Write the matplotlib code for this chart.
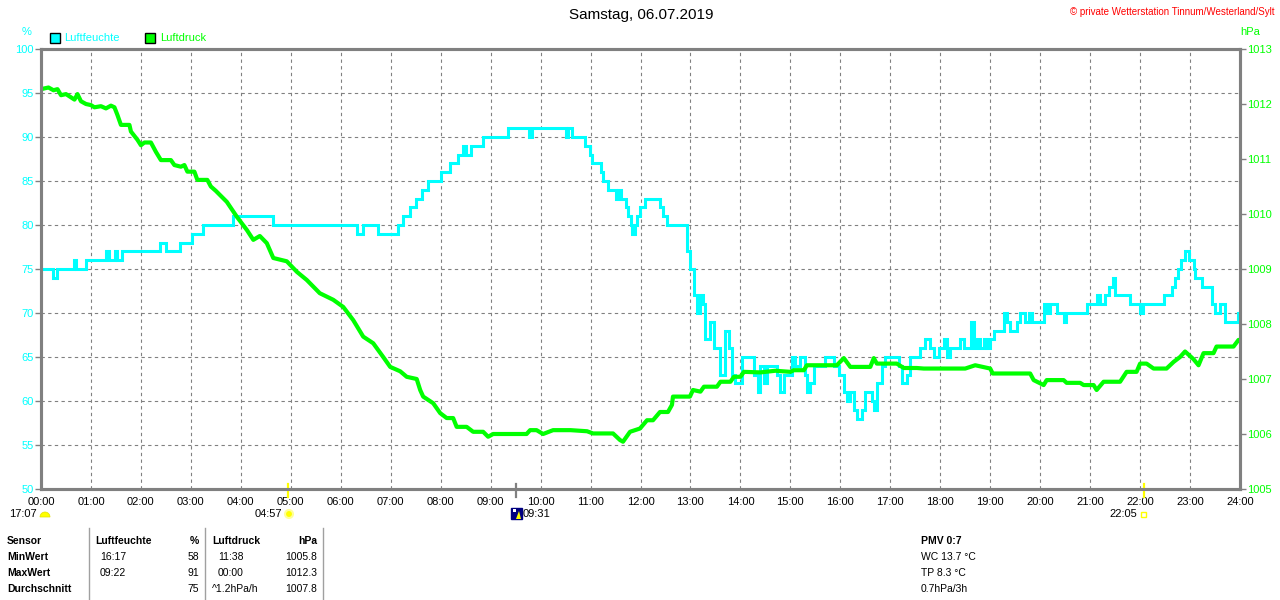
import matplotlib
matplotlib.use('Agg')
import matplotlib.pyplot as plt
from matplotlib.patches import Rectangle, Circle, Wedge, Polygon
from matplotlib.transforms import IdentityTransform, blended_transform_factory

plt.rcParams['font.family'] = ['Liberation Sans', 'DejaVu Sans']

# ---------------- data ----------------
title = "Samstag, 06.07.2019"
copyright_text = "\u00a9 private Wetterstation Tinnum/Westerland/Sylt"
hour_labels = ["%02d:00" % h for h in range(25)]
hum_ticks = [50, 55, 60, 65, 70, 75, 80, 85, 90, 95, 100]
press_ticks = [1005, 1006, 1007, 1008, 1009, 1010, 1011, 1012, 1013]

# humidity (%) change points, hours
hum_t = [0.00, 0.25, 0.32, 0.66, 0.70, 0.91, 1.30, 1.36, 1.48, 1.52, 1.62, 2.38, 2.50, 2.78,
         3.02, 3.25, 3.85, 4.65, 6.32, 6.45, 6.75, 7.15, 7.25, 7.38, 7.50, 7.63, 7.75, 8.00,
         8.19, 8.35, 8.45, 8.50, 8.60, 8.85, 9.35, 9.77, 9.82, 10.50, 10.55, 10.63, 10.89,
         10.98, 11.03, 11.20, 11.25, 11.35, 11.50, 11.55, 11.60, 11.70, 11.75, 11.80, 11.83,
         11.88, 11.93, 11.99, 12.09, 12.39, 12.45, 12.53, 12.90, 12.93, 13.00, 13.07, 13.13,
         13.20, 13.25, 13.30, 13.40, 13.47, 13.60, 13.70, 13.77, 13.83, 13.90, 14.03, 14.27,
         14.35, 14.40, 14.47, 14.53, 14.73, 14.80, 14.87, 15.03, 15.10, 15.20, 15.30, 15.33,
         15.40, 15.47, 15.70, 15.87, 15.97, 16.07, 16.13, 16.20, 16.27, 16.33, 16.43, 16.50,
         16.63, 16.67, 16.73, 16.83, 16.90, 17.17, 17.23, 17.33, 17.40, 17.60, 17.70, 17.80,
         17.87, 17.97, 18.07, 18.13, 18.20, 18.40, 18.47, 18.61, 18.67, 18.73, 18.80, 18.87,
         18.93, 19.00, 19.07, 19.27, 19.33, 19.40, 19.53, 19.60, 19.70, 19.77, 19.83, 20.07,
         20.13, 20.20, 20.33, 20.47, 20.52, 20.93, 21.13, 21.20, 21.30, 21.37, 21.45, 21.50,
         21.80, 22.00, 22.05, 22.47, 22.63, 22.70, 22.75, 22.81, 22.90, 22.97, 23.07, 23.10,
         23.23, 23.43, 23.50, 23.59, 23.69, 23.95, 24.00]
hum_v = [75, 74, 75, 76, 75, 76, 77, 76, 77, 76, 77, 78, 77, 78,
         79, 80, 81, 80, 79, 80, 79, 80, 81, 82, 83, 84, 85, 86,
         87, 88, 89, 88, 89, 90, 91, 90, 91, 90, 91, 90, 89,
         88, 87, 86, 85, 84, 83, 84, 83, 82, 81, 80, 79,
         80, 81, 82, 83, 82, 81, 80, 80, 77, 75, 72, 70,
         72, 71, 67, 69, 66, 63, 68, 66, 63, 62, 65, 63,
         61, 64, 62, 64, 63, 61, 63, 65, 64, 65, 63, 61,
         62, 64, 65, 64, 63, 61, 60, 61, 59, 58, 59, 61,
         60, 59, 62, 64, 65, 64, 62, 63, 65, 66, 67, 66,
         65, 66, 67, 65, 66, 67, 66, 69, 66, 67, 66, 67,
         66, 67, 68, 70, 69, 68, 69, 70, 69, 70, 69, 71,
         70, 71, 70, 69, 70, 71, 72, 71, 72, 73, 74, 72,
         71, 70, 71, 72, 73, 74, 75, 76, 77, 76, 75, 74,
         73, 71, 70, 71, 69, 70, 70]

# pressure (hPa), hours
press_t = [0.00, 0.15, 0.25, 0.33, 0.40, 0.50, 0.60, 0.67, 0.73, 0.80,
           0.90, 1.00, 1.07, 1.20, 1.30, 1.40, 1.47, 1.53, 1.60, 1.77,
           1.80, 1.93, 2.00, 2.07, 2.20, 2.30, 2.40, 2.60, 2.67, 2.80,
           2.87, 2.93, 3.07, 3.13, 3.33, 3.40, 3.50, 3.72, 3.92, 4.12,
           4.25, 4.38, 4.52, 4.65, 4.92, 5.12, 5.32, 5.58, 5.85, 6.05,
           6.25, 6.45, 6.65, 6.85, 6.99, 7.19, 7.32, 7.52, 7.59, 7.65,
           7.85, 7.99, 8.12, 8.25, 8.32, 8.52, 8.65, 8.85, 8.95, 9.05,
           9.40, 9.72, 9.79, 9.92, 10.05, 10.25, 10.60, 10.93, 11.05, 11.45,
           11.59, 11.65, 11.79, 11.99, 12.13, 12.25, 12.39, 12.55, 12.63, 12.65,
           12.99, 13.05, 13.20, 13.27, 13.53, 13.60, 13.80, 13.87, 14.00, 14.07,
           14.40, 14.70, 15.00, 15.07, 15.27, 15.33, 15.93, 16.07, 16.20, 16.60,
           16.67, 16.73, 17.13, 17.27, 17.53, 17.67, 18.50, 18.70, 19.00, 19.05,
           19.80, 19.87, 20.07, 20.13, 20.47, 20.53, 20.80, 20.87, 21.07, 21.13,
           21.27, 21.60, 21.73, 21.93, 22.00, 22.13, 22.27, 22.53, 22.67, 22.80,
           22.90, 23.07, 23.17, 23.27, 23.47, 23.53, 23.87, 23.97, 24.00]
press_v = [1012.27, 1012.30, 1012.25, 1012.27, 1012.16, 1012.18, 1012.12, 1012.08, 1012.18, 1012.05,
           1012.00, 1011.98, 1011.94, 1011.96, 1011.92, 1011.97, 1011.94, 1011.80, 1011.62, 1011.62,
           1011.50, 1011.35, 1011.25, 1011.30, 1011.30, 1011.13, 1010.98, 1010.98, 1010.89, 1010.86,
           1010.89, 1010.77, 1010.77, 1010.62, 1010.62, 1010.50, 1010.42, 1010.22, 1009.95, 1009.71,
           1009.53, 1009.60, 1009.47, 1009.20, 1009.14, 1008.95, 1008.80, 1008.56, 1008.44, 1008.31,
           1008.07, 1007.77, 1007.65, 1007.40, 1007.22, 1007.14, 1007.04, 1007.00, 1006.80, 1006.68,
           1006.56, 1006.38, 1006.29, 1006.29, 1006.13, 1006.13, 1006.04, 1006.04, 1005.95, 1006.00,
           1006.00, 1006.00, 1006.07, 1006.07, 1006.00, 1006.07, 1006.07, 1006.05, 1006.01, 1006.01,
           1005.89, 1005.86, 1006.04, 1006.10, 1006.25, 1006.25, 1006.40, 1006.40, 1006.53, 1006.68,
           1006.68, 1006.80, 1006.77, 1006.86, 1006.86, 1006.95, 1006.95, 1007.04, 1007.04, 1007.13,
           1007.12, 1007.15, 1007.13, 1007.16, 1007.16, 1007.25, 1007.25, 1007.38, 1007.22, 1007.22,
           1007.38, 1007.28, 1007.28, 1007.20, 1007.20, 1007.19, 1007.19, 1007.25, 1007.19, 1007.10,
           1007.10, 1006.98, 1006.89, 1006.98, 1006.98, 1006.93, 1006.93, 1006.89, 1006.89, 1006.80,
           1006.95, 1006.95, 1007.13, 1007.13, 1007.28, 1007.28, 1007.19, 1007.19, 1007.31, 1007.40,
           1007.50, 1007.36, 1007.25, 1007.47, 1007.47, 1007.59, 1007.59, 1007.71, 1007.71]

# astro events: label, hour position of tick (None = no tick)
event_labels = ["17:07", "04:57", "09:31", "22:05"]
event_hours = [None, 4.95, 9.517, 22.083]

table_header = ["Sensor", "Luftfeuchte", "%", "Luftdruck", "hPa"]
table_rows = ["MinWert", "MaxWert", "Durchschnitt"]
hum_time_col = ["16:17", "09:22", ""]
hum_val_col = ["58", "91", "75"]
press_time_col = ["11:38", "00:00", "^1.2hPa/h"]
press_val_col = ["1005.8", "1012.3", "1007.8"]
pmv_lines = ["PMV 0:7", "WC 13.7 \u00b0C", "TP 8.3 \u00b0C", "0.7hPa/3h"]

CYAN = '#00ffff'
GREEN = '#00ff00'
GRAY = '#808080'

# ---------------- figure ----------------
W, H = 1280, 600
fig = plt.figure(figsize=(12.8, 6), dpi=100)
fig.patch.set_facecolor('white')


def fx(x):
    return x / W


def fy(y):
    return 1 - y / H


ax = fig.add_axes([fx(41), fy(489), fx(1240) - fx(41), fy(49) - fy(489)])
ax2 = ax.twinx()

ax.set_xlim(0, 24)
ax.set_ylim(50, 100)
ax2.set_ylim(1005, 1013)

ax.set_xticks(range(25))
ax.set_xticklabels(hour_labels)
ax.set_yticks(hum_ticks)
ax.set_yticklabels([str(v) for v in hum_ticks])
ax2.set_yticks(press_ticks)
ax2.set_yticklabels([str(v) for v in press_ticks])

ax.grid(True, color=GRAY, linestyle=(0, (3, 3)), linewidth=0.8)
ax2.grid(False)

for a in (ax, ax2):
    for s in a.spines.values():
        s.set_color(GRAY)
        s.set_linewidth(2.2)

ax.tick_params(axis='x', length=0, pad=6, labelsize=8, labelcolor='black')
ax.tick_params(axis='y', length=4, width=1, color=GRAY, pad=1, labelsize=8, labelcolor=CYAN)
ax2.tick_params(axis='y', length=4, width=1, color=GRAY, pad=1, labelsize=8, labelcolor=GREEN)

ax.step(hum_t, hum_v, where='post', color=CYAN, linewidth=2.2, solid_joinstyle='miter')
ax2.plot(press_t, press_v, color=GREEN, linewidth=3.0)

# astro ticks on x axis
btrans = blended_transform_factory(ax.transData, ax.transAxes)
tick_colors = ['#ffff00', GRAY, '#ffff00']
for hh, c in zip(event_hours[1:], tick_colors):
    ax.plot([hh, hh], [0.012, -0.018], color=c, linewidth=1.6, transform=btrans,
            clip_on=False, zorder=5)

# ---------------- texts ----------------
fig.text(fx(641), fy(15), title, ha='center', va='center', fontsize=11, color='black')
fig.text(fx(1275), fy(12), copyright_text, ha='right', va='center', fontsize=7, color='#ff0000')
fig.text(fx(27), fy(32), "%", ha='center', va='center', fontsize=8, color=CYAN)
fig.text(fx(1250), fy(32), "hPa", ha='center', va='center', fontsize=8, color=GREEN)

idt = IdentityTransform()
# legend
fig.add_artist(Rectangle((50, H - 43), 10, 10, facecolor=CYAN, edgecolor='black', lw=1, transform=idt))
fig.text(fx(64), fy(38), "Luftfeuchte", ha='left', va='center', fontsize=8, color=CYAN)
fig.add_artist(Rectangle((145, H - 43), 10, 10, facecolor=GREEN, edgecolor='black', lw=1, transform=idt))
fig.text(fx(160), fy(38), "Luftdruck", ha='left', va='center', fontsize=8, color=GREEN)

# astro labels and icons
fig.text(fx(37), fy(514), event_labels[0], ha='right', va='center', fontsize=8, color='black')
fig.add_artist(Wedge((45, H - 517), 5, 0, 180, facecolor='#ffff00', edgecolor='#e0e000', lw=0.5, transform=idt))
fig.text(fx(282), fy(514), event_labels[1], ha='right', va='center', fontsize=8, color='black')
fig.add_artist(Circle((289, H - 514), 4, facecolor='#ffff00', edgecolor='#ffff99', lw=1.5, transform=idt))
fig.add_artist(Rectangle((511, H - 519), 11, 11, facecolor='#000080', edgecolor='#000080', transform=idt))
fig.add_artist(Rectangle((513, H - 512), 3, 3, facecolor='white', edgecolor='none', transform=idt))
fig.add_artist(Polygon([(516, H - 519), (519, H - 511), (521, H - 519)], closed=True,
                       facecolor='#ffff00', edgecolor='none', transform=idt))
fig.text(fx(523), fy(514), event_labels[2], ha='left', va='center', fontsize=8, color='black')
fig.text(fx(1137), fy(514), event_labels[3], ha='right', va='center', fontsize=8, color='black')
fig.add_artist(Rectangle((1141, H - 517), 5, 5, facecolor='none', edgecolor='#ffff00', lw=1, transform=idt))

# table
row_y = [541, 557, 573, 589]
fig.text(fx(7), fy(row_y[0]), table_header[0], ha='left', va='center', fontsize=7.5, fontweight='bold')
fig.text(fx(95), fy(row_y[0]), table_header[1], ha='left', va='center', fontsize=7.5, fontweight='bold')
fig.text(fx(199), fy(row_y[0]), table_header[2], ha='right', va='center', fontsize=7.5, fontweight='bold')
fig.text(fx(212), fy(row_y[0]), table_header[3], ha='left', va='center', fontsize=7.5, fontweight='bold')
fig.text(fx(317), fy(row_y[0]), table_header[4], ha='right', va='center', fontsize=7.5, fontweight='bold')
for i, name in enumerate(table_rows):
    y = row_y[i + 1]
    fig.text(fx(7), fy(y), name, ha='left', va='center', fontsize=7.5, fontweight='bold')
    fig.text(fx(100), fy(y), hum_time_col[i], ha='left', va='center', fontsize=7.5)
    fig.text(fx(199), fy(y), hum_val_col[i], ha='right', va='center', fontsize=7.5)
    px_left = 212 if press_time_col[i].startswith('^') else 218
    fig.text(fx(px_left), fy(y), press_time_col[i], ha='left', va='center', fontsize=7.5)
    fig.text(fx(317), fy(y), press_val_col[i], ha='right', va='center', fontsize=7.5)
for sx in (89, 205, 323):
    fig.add_artist(plt.Line2D([fx(sx), fx(sx)], [fy(528), fy(600)], color='#a0a0a0', lw=1,
                              transform=fig.transFigure))

for i, line in enumerate(pmv_lines):
    fig.text(fx(921), fy(row_y[i]), line, ha='left', va='center', fontsize=7.5,
             fontweight='bold' if i == 0 else 'normal')

fig.savefig('out.png', dpi=100, facecolor='white')
